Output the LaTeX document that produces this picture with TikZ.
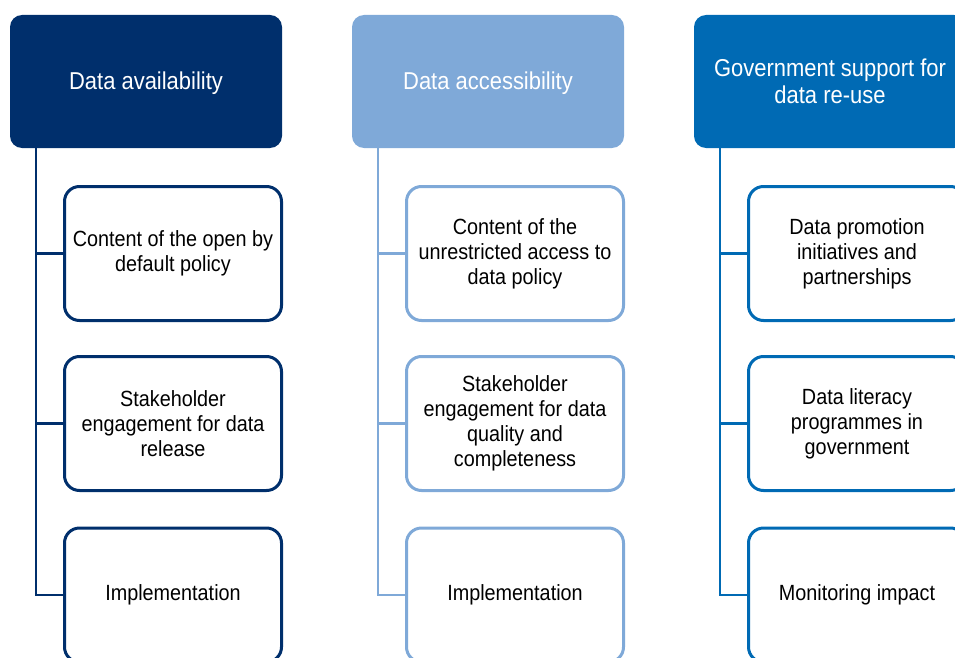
\documentclass[tikz,border=0pt]{standalone}
\usepackage{fontspec}
\setmainfont{Liberation Sans}[FakeStretch=0.9]
\usepackage{tikz}
\definecolor{navy}{RGB}{0,47,108}
\definecolor{skyblue}{RGB}{127,169,216}
\definecolor{midblue}{RGB}{0,106,180}
\tikzstyle{head}=[rectangle, rounded corners=12pt, minimum width=272pt, minimum height=133pt, inner sep=4pt, text=white, align=center, font=\fontsize{24.4}{27}\selectfont]
\tikzstyle{item}=[rectangle, rounded corners=15pt, line width=3pt, fill=white, minimum width=217pt, minimum height=134pt, inner sep=4pt, align=center, font=\fontsize{22}{25}\selectfont]
\tikzstyle{link}=[line width=2.2pt]

\begin{document}
\begin{tikzpicture}[x=1pt,y=-1pt]
				\useasboundingbox (0,0) rectangle (955,658);
				\clip (0,0) rectangle (955,658);

				%Data availability
				\draw (146,81.5) node[head,fill=navy,text depth=2pt] (h1) {Data availability};
				\draw (173,253.5) node[item,draw=navy] (c11) {Content of the open by\\default policy};
				\draw (173,423.5) node[item,draw=navy] (c12) {Stakeholder\\engagement for data\\release};
				\draw (173,595) node[item,draw=navy] (c13) {Implementation};

				%Data accessibility
				\draw (488,81.5) node[head,fill=skyblue,text depth=2pt] (h2) {Data accessibility};
				\draw (515,253.5) node[item,draw=skyblue] (c21) {Content of the\\unrestricted access to\\data policy};
				\draw (515,423.5) node[item,draw=skyblue] (c22) {Stakeholder\\engagement for data\\quality and\\completeness};
				\draw (515,595) node[item,draw=skyblue] (c23) {Implementation};

				%Government support
				\draw (830,81.5) node[head,fill=midblue] (h3) {Government support for\\data re-use};
				\draw (857,253.5) node[item,draw=midblue] (c31) {Data promotion\\initiatives and\\partnerships};
				\draw (857,423.5) node[item,draw=midblue] (c32) {Data literacy\\programmes in\\government};
				\draw (857,595) node[item,draw=midblue] (c33) {Monitoring impact};

				%The trunks
				\coordinate (t1) at (36,148);
				\coordinate (t2) at (378,148);
				\coordinate (t3) at (720,148);

				\draw[link,navy] (t1) |- (c13.west);
				\draw[link,navy] (t1 |- c11.west) -- (c11.west);
				\draw[link,navy] (t1 |- c12.west) -- (c12.west);

				\draw[link,skyblue] (t2) |- (c23.west);
				\draw[link,skyblue] (t2 |- c21.west) -- (c21.west);
				\draw[link,skyblue] (t2 |- c22.west) -- (c22.west);

				\draw[link,midblue] (t3) |- (c33.west);
				\draw[link,midblue] (t3 |- c31.west) -- (c31.west);
				\draw[link,midblue] (t3 |- c32.west) -- (c32.west);
			\end{tikzpicture}
\end{document}
